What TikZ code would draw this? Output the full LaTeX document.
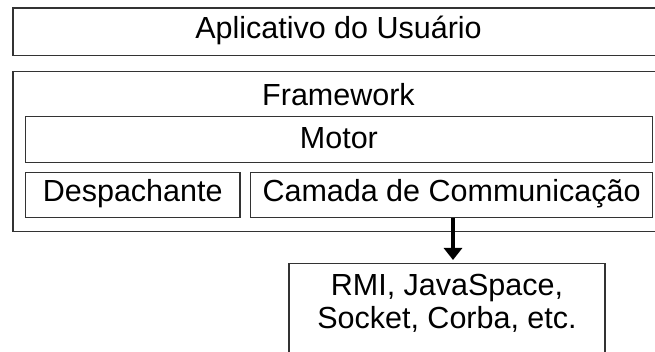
\documentclass[tikz,border=0pt]{standalone}
\usepackage{fontspec}
\setmainfont{Liberation Sans}
\usetikzlibrary{arrows.meta}
\begin{document}
\begin{tikzpicture}[x=1pt,y=-1pt,
  box/.style={draw=black!80, line width=1.4pt, inner sep=0pt, anchor=north west},
  lbl/.style={anchor=base, inner sep=0pt, font=\fontsize{30.5}{33.5}\selectfont, align=center},
  flow/.style={line width=3.4pt, shorten >=3pt, -{Triangle[length=12pt,width=18pt]}}
]
\useasboundingbox (0,0) rectangle (655,352);

% outer layers
\node[box, minimum width=653pt, minimum height=47.7pt] (app) at (12.3,7.3) {};
\node[lbl] (applbl) at (338.5,38.3) {Aplicativo do Usuário};

\node[box, minimum width=653pt, minimum height=159.7pt] (fw) at (12.3,71) {};
\node[lbl] (fwlbl) at (338.5,106) {Framework};

% framework internals
\node[box, minimum width=627pt, minimum height=45.7pt] (motor) at (24.7,116) {};
\node[lbl] (motorlbl) at (motor.center |- 0,149) {Motor};

\node[box, minimum width=214.6pt, minimum height=45.3pt] (desp) at (24.7,171.7) {};
\node[lbl] (desplbl) at (desp.center |- 0,202) {Despachante};

\node[box, minimum width=401.7pt, minimum height=45.3pt] (cam) at (250,171.7) {};
\node[lbl] (camlbl) at (cam.center |- 0,202) {Camada de Communicação};

% transport mechanisms
\node[box, minimum width=316pt, minimum height=110pt] (rmi) at (288.3,263) {};
\node[lbl] (rmilbl) at (rmi.center |- 0,328.5) {RMI, JavaSpace,\\Socket, Corba, etc.};

\coordinate (ax) at (453,0);
\draw[flow] (cam.south -| ax) -- (rmi.north -| ax);
\end{tikzpicture}
\end{document}
